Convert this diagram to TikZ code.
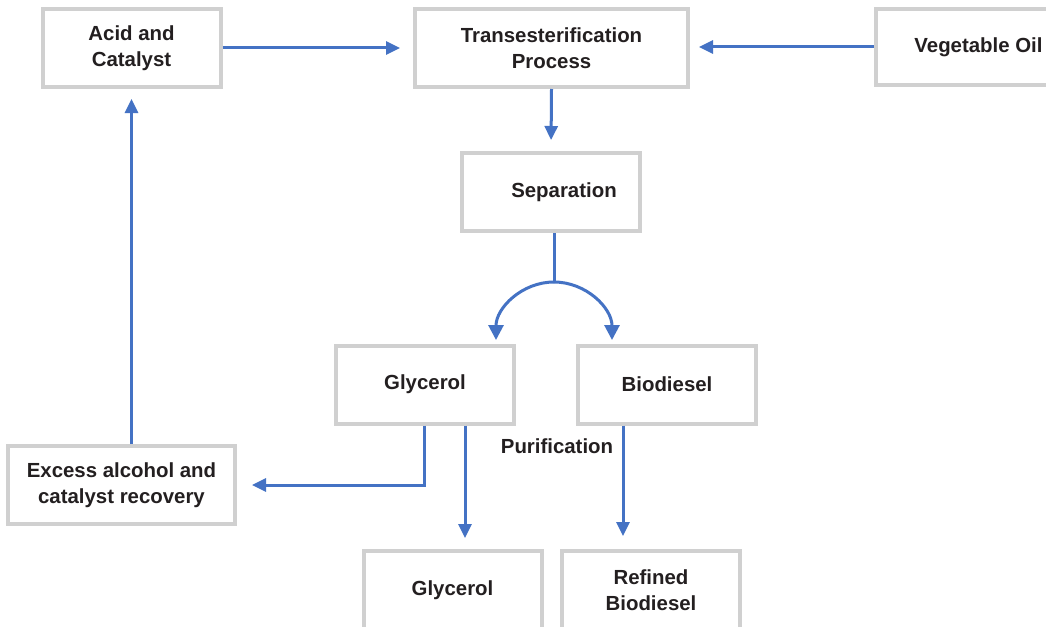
\documentclass[tikz,border=0pt]{standalone}
\usepackage{fontspec}
\setmainfont{Liberation Sans}
\usetikzlibrary{arrows.meta}
\definecolor{flowblue}{HTML}{4472C4}
\definecolor{boxgray}{HTML}{D0D0D0}
\definecolor{txt}{HTML}{231F20}
\tikzset{
  box/.style={draw=boxgray, line width=4pt, fill=white, minimum width=178pt, minimum height=78pt,
    align=center, inner sep=0pt, text=txt, font=\bfseries\fontsize{20.4}{26}\selectfont},
  arr/.style={draw=flowblue, line width=3pt, -{Triangle[length=14pt,width=13pt]}},
  lbl/.style={text=txt, font=\bfseries\fontsize{20.4}{26}\selectfont, inner sep=0pt}
}
\begin{document}
\begin{tikzpicture}[x=1pt,y=-1pt]
\useasboundingbox (0,0) rectangle (1046,626);
\clip (0,0) rectangle (1046,626);
\fill[white] (0,0) rectangle (1046,626);
\node[box] (acid) at (131.5,48) {Acid and\\Catalyst};
\node[box, minimum width=273pt] (trans) at (551.5,48) {Transesterification\\Process};
\node[box, minimum width=205pt, minimum height=76pt] (veg) at (978.5,47) {Vegetable Oil};
\node[box] (sep) at (551,192) {\hspace{26pt}Separation};
\node[box] (gly) at (425,384.5) {Glycerol};
\node[box] (bio) at (667,384.5) {Biodiesel};
\node[box, minimum width=227pt] (excess) at (121.5,485) {Excess alcohol and\\catalyst recovery};
\node[box] (gly2) at (452.5,590) {Glycerol};
\node[box] (ref) at (651,590) {Refined\\Biodiesel};
\node[lbl] (pur) at (557,446) {Purification};

\draw[arr, shorten >=13pt] (acid.east) -- (trans.west);
\draw[arr, shorten >=9pt] (veg.west) -- (veg.west -| trans.east);
\draw[arr, shorten >=11pt] (trans.south) -- (sep.north);

\coordinate (s0) at ([xshift=3pt]sep.south);
\coordinate (top) at ([yshift=-49pt]s0);
\draw[draw=flowblue, line width=3pt] (s0) -- (top);
\draw[arr, -{Triangle[length=15pt,width=15pt]}] (top) arc[start angle=90, end angle=180, radius=58pt];
\draw[arr, -{Triangle[length=15pt,width=15pt]}] (top) arc[start angle=90, end angle=0, radius=58pt];

\coordinate (g0) at ([xshift=-1pt]gly.south);
\draw[arr, shorten >=15pt] (g0) |- (excess.east);
\coordinate (g1) at ([xshift=40pt]gly.south);
\draw[arr, shorten >=11pt] (g1) -- (g1 |- gly2.north);
\coordinate (b1) at ([xshift=-44pt]bio.south);
\draw[arr, shorten >=13pt] (b1) -- (b1 |- ref.north);
\draw[arr, shorten >=10pt] (acid.south |- excess.north) -- (acid.south);
\end{tikzpicture}
\end{document}
